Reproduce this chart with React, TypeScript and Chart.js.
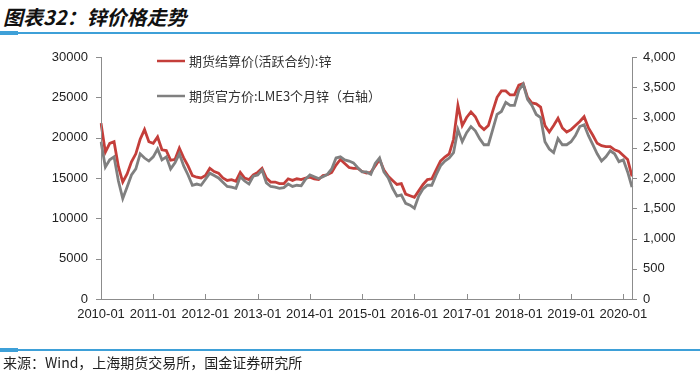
import React, { useEffect, useRef } from "react";
import { Chart, registerables } from "chart.js";

Chart.register(...registerables);

const TITLE = "图表32：锌价格走势";
const SOURCE = "来源：Wind，上海期货交易所，国金证券研究所";
const SERIES_SHFE = "期货结算价(活跃合约):锌";
const SERIES_LME = "期货官方价:LME3个月锌（右轴）";

const START_YEAR = 2010;
const MONTH_COUNT = 123; // 2010-01 .. 2020-03
const months: string[] = [];
for (let i = 0; i < MONTH_COUNT; i++) {
  const y = START_YEAR + Math.floor(i / 12);
  const m = (i % 12) + 1;
  months.push(`${y}-${m < 10 ? "0" + m : m}`);
}

// SHFE zinc settlement price (CNY/t), monthly
const shfe: number[] = [
  21800, 18200, 19300, 19500, 16400, 14500, 15500, 17000, 18000, 19800, 21000, 19500,
  19300, 20100, 18500, 18400, 17200, 17300, 18700, 17500, 16500, 15300, 15100, 15000,
  15300, 16200, 15800, 15600, 15000, 14700, 14800, 14600, 15700, 15000, 14800, 15400,
  15700, 16200, 15000, 14500, 14500, 14300, 14300, 14900, 14700, 14900, 14800, 15000,
  15100, 14900, 14800, 15300, 15400, 15700, 16600, 17300, 16800, 16300, 16200, 16200,
  15800, 15600, 15700, 16500, 17300, 16000, 15200, 14700, 14200, 14300, 13000, 12800,
  12600, 13400, 14200, 14800, 14900, 16000, 17100, 17600, 18000, 19800, 24000, 21500,
  22500, 23200, 22600, 21500, 21000, 21500, 23300, 25000, 25800, 25800, 25300, 25300,
  26500, 26700, 25000, 24300, 24200, 23800, 21500, 20700, 21500, 22400, 21200, 20700,
  21000, 21500, 22000, 22600, 21200, 20300, 19300, 19000, 18900, 18900, 18500, 18300,
  17800, 17300, 15200,
];

// LME 3-month zinc (USD/t), monthly, right axis
const lme: number[] = [
  2600, 2180, 2300, 2350, 1950, 1660, 1850, 2050, 2150, 2400, 2330, 2280,
  2350, 2480, 2300, 2350, 2150, 2250, 2400, 2200, 2050, 1880, 1900, 1880,
  1980, 2080, 2040, 2000, 1930, 1860, 1850, 1830, 2020, 1950, 1900, 2030,
  2050, 2130, 1920, 1860, 1850, 1830, 1840, 1900, 1860, 1880, 1870, 1980,
  2050, 2020, 1990, 2020, 2060, 2150, 2330, 2350, 2300, 2280, 2250, 2170,
  2100, 2100, 2060, 2240, 2330, 2100, 2000, 1830, 1700, 1720, 1580, 1550,
  1500, 1700, 1820, 1880, 1880, 2050, 2200, 2280, 2330, 2420, 2800, 2600,
  2750, 2850, 2780, 2650, 2550, 2550, 2800, 3050, 3100, 3250, 3200, 3200,
  3450, 3550, 3300, 3200, 3050, 3000, 2600, 2480, 2420, 2650, 2550, 2550,
  2600, 2700, 2850, 2880, 2700, 2550, 2400, 2280, 2350, 2450, 2400, 2270,
  2300, 2100, 1850,
];

const LEFT_MAX = 30000;
const LEFT_STEP = 5000;
const RIGHT_MAX = 4000;
const RIGHT_STEP = 500;

const RED = "rgb(196,62,58)";
const GRAY = "rgb(128,128,128)";
const AXIS = "rgb(140,140,140)";
const BLUE = "rgb(62,160,216)";

const axesPlugin = {
  id: "customAxes",
  afterDatasetsDraw(chart: any) {
    const { ctx, chartArea, scales } = chart;
    const { left, right, top, bottom } = chartArea;
    ctx.save();
    ctx.strokeStyle = AXIS;
    ctx.lineWidth = 1;
    ctx.beginPath();
    ctx.moveTo(left, Math.round(bottom) + 0.5);
    ctx.lineTo(right, Math.round(bottom) + 0.5);
    ctx.moveTo(Math.round(left) + 0.5, top);
    ctx.lineTo(Math.round(left) + 0.5, bottom);
    ctx.moveTo(Math.round(right) + 0.5, top);
    ctx.lineTo(Math.round(right) + 0.5, bottom);
    for (let v = 0; v <= LEFT_MAX; v += LEFT_STEP) {
      const y = Math.round(scales.y.getPixelForValue(v)) + 0.5;
      ctx.moveTo(left - 5, y);
      ctx.lineTo(left, y);
    }
    for (let v = 0; v <= RIGHT_MAX; v += RIGHT_STEP) {
      const y = Math.round(scales.y2.getPixelForValue(v)) + 0.5;
      ctx.moveTo(right, y);
      ctx.lineTo(right + 5, y);
    }
    for (let i = 0; i < months.length; i += 12) {
      const x = Math.round(scales.x.getPixelForValue(i)) + 0.5;
      ctx.moveTo(x, bottom);
      ctx.lineTo(x, bottom - 5);
    }
    ctx.stroke();

    const items = [
      { color: RED, text: SERIES_SHFE, y: 61 },
      { color: GRAY, text: SERIES_LME, y: 96 },
    ];
    ctx.font = '13px "Noto Sans CJK SC", "Liberation Sans", sans-serif';
    ctx.textBaseline = "middle";
    ctx.textAlign = "left";
    for (const it of items) {
      ctx.strokeStyle = it.color;
      ctx.lineWidth = 2.5;
      ctx.beginPath();
      ctx.moveTo(157, it.y);
      ctx.lineTo(185, it.y);
      ctx.stroke();
      ctx.fillStyle = "#333";
      ctx.fillText(it.text, 189, it.y);
    }
    ctx.restore();
  },
};

export default function App() {
  const ref = useRef<HTMLCanvasElement | null>(null);

  useEffect(() => {
    document.body.style.margin = "0";
    const canvas = ref.current;
    if (!canvas) return;
    const tickFont = { family: '"Liberation Sans", Arial, sans-serif', size: 13 };
    const chart = new Chart(canvas, {
      type: "line",
      data: {
        labels: months,
        datasets: [
          {
            label: SERIES_SHFE,
            data: shfe,
            borderColor: RED,
            backgroundColor: RED,
            borderWidth: 2.8,
            pointRadius: 0,
            tension: 0,
            yAxisID: "y",
            order: 1,
          },
          {
            label: SERIES_LME,
            data: lme,
            borderColor: GRAY,
            backgroundColor: GRAY,
            borderWidth: 2.8,
            pointRadius: 0,
            tension: 0,
            yAxisID: "y2",
            order: 0,
          },
        ],
      },
      options: {
        responsive: false,
        animation: false,
        events: [],
        layout: { padding: { top: 57, left: 0, right: 0, bottom: 0 } },
        plugins: { legend: { display: false }, tooltip: { enabled: false } },
        scales: {
          x: {
            type: "category",
            offset: false,
            grid: { display: false, drawTicks: false },
            border: { display: false },
            ticks: {
              autoSkip: false,
              maxRotation: 0,
              minRotation: 0,
              padding: 8,
              color: "#222",
              font: tickFont,
              callback: (_v: any, i: number) => (i % 12 === 0 ? months[i] : ""),
            },
            afterFit: (s: any) => {
              s.height = 75;
            },
          },
          y: {
            position: "left",
            min: 0,
            max: LEFT_MAX,
            grid: { display: false, drawTicks: false },
            border: { display: false },
            ticks: {
              stepSize: LEFT_STEP,
              padding: 13,
              color: "#222",
              font: tickFont,
              callback: (v: any) => String(v),
            },
            afterFit: (s: any) => {
              s.width = 101;
            },
          },
          y2: {
            position: "right",
            min: 0,
            max: RIGHT_MAX,
            grid: { display: false, drawTicks: false },
            border: { display: false },
            ticks: {
              stepSize: RIGHT_STEP,
              padding: 11,
              color: "#222",
              font: tickFont,
              callback: (v: any) => Number(v).toLocaleString("en-US"),
            },
            afterFit: (s: any) => {
              s.width = 68;
            },
          },
        },
      },
      plugins: [axesPlugin],
    } as any);
    return () => chart.destroy();
  }, []);

  return (
    <div style={{ position: "relative", width: 700, height: 374, background: "#fff", overflow: "hidden" }}>
      <div
        style={{
          position: "absolute",
          left: 3,
          top: 5,
          fontFamily: '"Noto Sans CJK SC", sans-serif',
          fontWeight: 700,
          fontStyle: "italic",
          fontSize: 20,
          lineHeight: "24px",
          color: "#111",
          whiteSpace: "nowrap",
        }}
      >
        {TITLE}
      </div>
      <div style={{ position: "absolute", left: 0, top: 32, width: 700, height: 2, background: BLUE }} />
      <div style={{ position: "absolute", left: 0, top: 31, width: 18, height: 4, background: BLUE }} />
      <canvas ref={ref} width={700} height={374} style={{ position: "absolute", left: 0, top: 0 }} />
      <div style={{ position: "absolute", left: 0, top: 349, width: 700, height: 2, background: BLUE }} />
      <div style={{ position: "absolute", left: 0, top: 348, width: 18, height: 4, background: BLUE }} />
      <div
        style={{
          position: "absolute",
          left: 3,
          top: 353,
          fontFamily: '"Noto Sans CJK SC", sans-serif',
          fontSize: 14,
          lineHeight: "18px",
          color: "#222",
          whiteSpace: "nowrap",
        }}
      >
        {SOURCE}
      </div>
    </div>
  );
}
